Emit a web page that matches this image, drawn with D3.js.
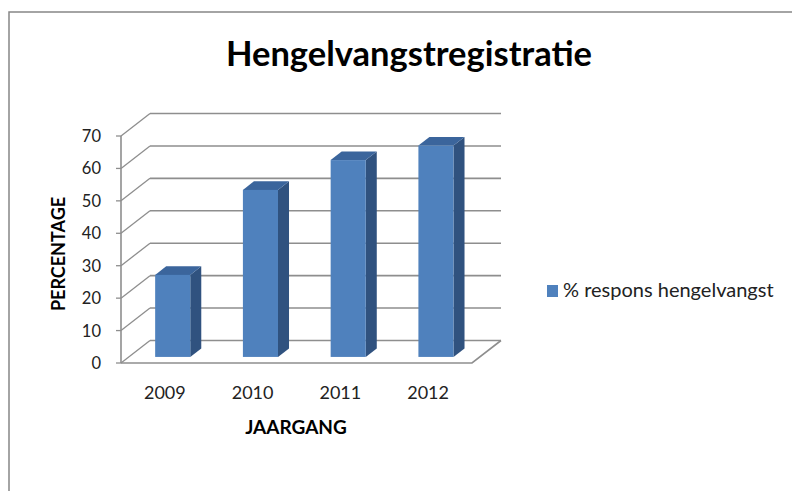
<!DOCTYPE html>
<html>
<head>
<meta charset="utf-8">
<script src="https://cdn.jsdelivr.net/npm/d3@7"></script>
<style>
  body { margin: 0; background: #fff; }
  text { font-family: Lato, "Noto Sans", sans-serif; }
</style>
</head>
<body>
<div id="chart-area"></div>
<script>
var years = ["2009", "2010", "2011", "2012"];
var respons = [25.3, 51.5, 60.7, 65.2];
var yTicks = [0, 10, 20, 30, 40, 50, 60, 70];
var seriesName = "% respons hengelvangst";

var width = 792, height = 491;

// depth of the 3d box and where the bars sit inside it
var depth = { dx: 29, dy: -22.5 };
var barFront = 0.27, barBack = 0.65;

var svg = d3.select("#chart-area")
    .append("svg")
        .attr("width", width)
        .attr("height", height);

// outer border
svg.append("rect")
    .attr("x", 9).attr("y", 12)
    .attr("width", 800).attr("height", 500)
    .attr("fill", "none")
    .attr("stroke", "#878787")
    .attr("stroke-width", 1.5);

var xScale = d3.scaleBand()
    .domain(years)
    .range([121, 472])
    .paddingInner(0.6)
    .paddingOuter(0.3);

var yScale = d3.scaleLinear()
    .domain([0, 70])
    .range([363, 136]);

function off(f) { return [depth.dx * f, depth.dy * f]; }

var grid = svg.append("g");
var backX0 = xScale.range()[0] + depth.dx,
    backX1 = xScale.range()[1] + depth.dx;

yTicks.forEach(function(t) {
    var y = yScale(t);
    // back wall
    grid.append("line")
        .attr("x1", backX0).attr("x2", backX1)
        .attr("y1", y + depth.dy).attr("y2", y + depth.dy)
        .attr("stroke", "#8e8e8e").attr("stroke-width", 1.6);
    // side wall
    grid.append("line")
        .attr("x1", xScale.range()[0]).attr("y1", y)
        .attr("x2", backX0).attr("y2", y + depth.dy)
        .attr("stroke", "#8e8e8e").attr("stroke-width", 1.3);
    // tick
    grid.append("line")
        .attr("x1", xScale.range()[0] - 5).attr("x2", xScale.range()[0])
        .attr("y1", y).attr("y2", y)
        .attr("stroke", "#8e8e8e").attr("stroke-width", 1.3);
    grid.append("text")
        .attr("x", 101).attr("y", y + 6)
        .attr("text-anchor", "end")
        .attr("font-size", "16.5px")
        .attr("fill", "#222")
        .text(t);
});

// front axis line
grid.append("line")
    .attr("x1", xScale.range()[0]).attr("x2", xScale.range()[0])
    .attr("y1", yScale(70)).attr("y2", yScale(0))
    .attr("stroke", "#8e8e8e").attr("stroke-width", 1.6);

// floor
grid.append("path")
    .attr("d", "M" + xScale.range()[0] + "," + yScale(0) +
        "L" + xScale.range()[1] + "," + yScale(0) +
        "L" + backX1 + "," + (yScale(0) + depth.dy))
    .attr("fill", "none")
    .attr("stroke", "#8e8e8e").attr("stroke-width", 1.6);

// bars
var bars = svg.append("g");
var o1 = off(barFront), o2 = off(barBack);

years.forEach(function(yr, i) {
    var x0 = xScale(yr) + o1[0],
        x1 = x0 + xScale.bandwidth(),
        yb = yScale(0) + o1[1],
        yt = yScale(respons[i]) + o1[1],
        ddx = o2[0] - o1[0],
        ddy = o2[1] - o1[1];

    bars.append("path")
        .attr("d", "M" + x1 + "," + yb + "L" + (x1 + ddx) + "," + (yb + ddy) +
            "L" + (x1 + ddx) + "," + (yt + ddy) + "L" + x1 + "," + yt + "Z")
        .attr("fill", "#30527f");
    bars.append("path")
        .attr("d", "M" + x0 + "," + yt + "L" + (x0 + ddx) + "," + (yt + ddy) +
            "L" + (x1 + ddx) + "," + (yt + ddy) + "L" + x1 + "," + yt + "Z")
        .attr("fill", "#3b659c");
    bars.append("rect")
        .attr("x", x0).attr("y", yt)
        .attr("width", xScale.bandwidth())
        .attr("height", yb - yt)
        .attr("fill", "#4f81bd");
});

// category labels
svg.selectAll(".cat")
    .data(years)
    .enter().append("text")
    .attr("class", "cat")
    .attr("x", function(d) { return xScale(d) + xScale.bandwidth() / 2; })
    .attr("y", 399)
    .attr("text-anchor", "middle")
    .attr("font-size", "18px")
    .attr("fill", "#222")
    .text(function(d) { return d; });

svg.append("text")
    .attr("x", 296).attr("y", 434)
    .attr("text-anchor", "middle")
    .attr("font-size", "19px")
    .attr("font-weight", "bold")
    .text("JAARGANG");

svg.append("text")
    .attr("transform", "translate(65,254) rotate(-90)")
    .attr("text-anchor", "middle")
    .attr("font-size", "18px")
    .attr("font-weight", "bold")
    .text("PERCENTAGE");

svg.append("text")
    .attr("x", 409).attr("y", 66)
    .attr("text-anchor", "middle")
    .attr("font-size", "34.5px")
    .attr("font-weight", "bold")
    .text("Hengelvangstregistratie");

// legend
svg.append("rect")
    .attr("x", 547).attr("y", 285)
    .attr("width", 11).attr("height", 12)
    .attr("fill", "#4f81bd");
svg.append("text")
    .attr("x", 563).attr("y", 297)
    .attr("font-size", "20px")
    .attr("fill", "#222")
    .text(seriesName);
</script>
</body>
</html>
